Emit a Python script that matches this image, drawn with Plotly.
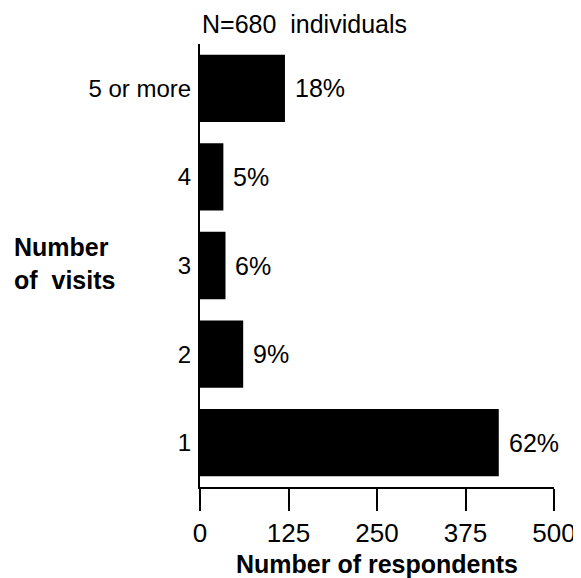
import plotly.graph_objects as go

visits = ["1", "2", "3", "4", "5 or more"]
respondents = [422, 61, 36, 33, 120]
pct_labels = ["62%", "9%", "6%", "5%", "18%"]
x_ticks = [0, 125, 250, 375, 500]

FONT = "Liberation Sans, Arial, sans-serif"

fig = go.Figure()
fig.add_trace(
    go.Bar(
        x=respondents,
        y=visits,
        orientation="h",
        marker=dict(color="black", line=dict(width=0)),
        showlegend=False,
        hoverinfo="skip",
    )
)

# percent labels right of each bar (category position by index)
for i, (v, lab) in enumerate(zip(respondents, pct_labels)):
    fig.add_annotation(
        x=v, y=i, text=lab, showarrow=False,
        xanchor="left", yanchor="middle", xshift=8,
        font=dict(size=25, color="black", family=FONT),
    )

# y axis title kept horizontal, two lines
fig.add_annotation(
    xref="paper", yref="paper", x=-0.53, y=0.505,
    text="<b>Number<br>of  visits</b>", showarrow=False,
    xanchor="left", yanchor="middle", align="left",
    font=dict(size=25, color="black", family=FONT),
)

# sample size note above the plot
fig.add_annotation(
    xref="paper", yref="paper", x=0, y=1, yshift=4,
    text="N=680  individuals", showarrow=False,
    xanchor="left", yanchor="bottom",
    font=dict(size=25, color="black", family=FONT),
)

# page body adds an 8px offset, so the figure is 8px smaller than the window
fig.update_layout(
    width=573,
    height=570,
    margin=dict(l=192, r=27, t=36, b=91),
    plot_bgcolor="white",
    paper_bgcolor="white",
    bargap=0.24,
    font=dict(family=FONT, size=25, color="black"),
)
fig.update_xaxes(
    range=[0, 500],
    tickvals=x_ticks,
    ticks="outside",
    ticklen=22,
    tickwidth=2,
    tickcolor="black",
    showline=True,
    linecolor="black",
    linewidth=2,
    showgrid=False,
    zeroline=False,
    automargin=False,
    title=dict(text="<b>Number of respondents</b>", standoff=12,
               font=dict(size=25, family=FONT)),
    tickfont=dict(size=26, family=FONT),
)
fig.update_yaxes(
    categoryorder="array",
    categoryarray=visits,
    range=[-0.5, 4.5],
    ticks="",
    showline=True,
    linecolor="black",
    linewidth=2,
    showgrid=False,
    zeroline=False,
    automargin=False,
    ticklabelstandoff=2,
    tickfont=dict(size=24, family=FONT),
)

fig.write_html("out.html")
